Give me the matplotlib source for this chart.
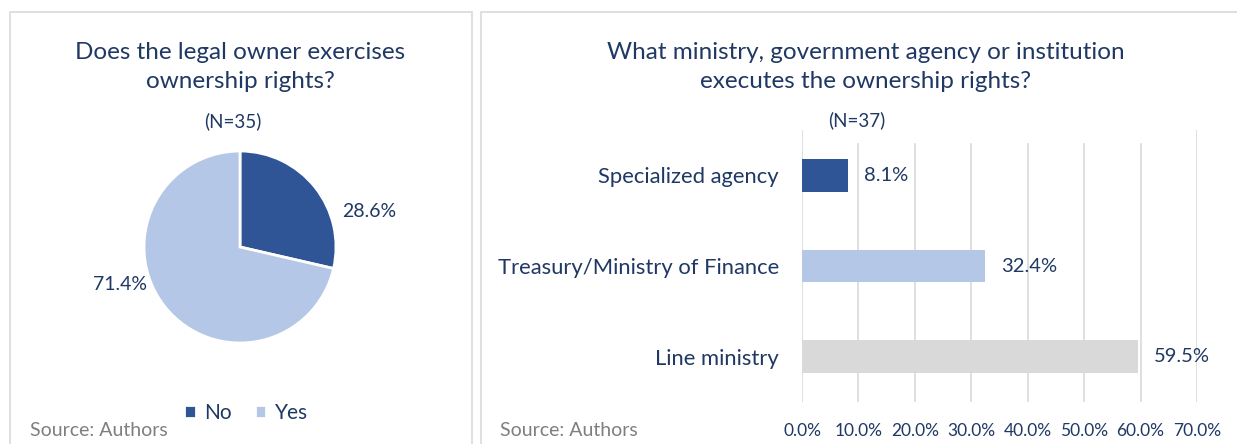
import matplotlib.pyplot as plt
from matplotlib.patches import Rectangle

# pie: does the legal owner exercise ownership rights
pie_labels = ['No', 'Yes']
pie_values = [28.6, 71.4]

# bars: who executes the ownership rights
categories = ['Line ministry', 'Treasury/Ministry of Finance', 'Specialized agency']
shares = [59.5, 32.4, 8.1]
xticks = [0, 10, 20, 30, 40, 50, 60, 70]

navy = '#1F3864'
dark_blue = '#2F5597'
light_blue = '#B4C7E7'
grey_bar = '#D9D9D9'
source_grey = '#7F7F7F'

plt.rcParams['font.family'] = ['Lato', 'DejaVu Sans']

W, H = 1237, 444
fig = plt.figure(figsize=(W / 100, H / 100), dpi=100)


def box(x0, y0, x1, y1):
    # pixel box (top-left origin) -> figure fraction rect
    return [x0 / W, 1 - y1 / H, (x1 - x0) / W, (y1 - y0) / H]


def fx(x):
    return x / W


def fy(y):
    return 1 - y / H


# panel frames
fig.patches.append(Rectangle((fx(10), fy(450)), fx(462), fy(12) - fy(450),
                             transform=fig.transFigure, fill=False,
                             edgecolor='#D9D9D9', lw=1.2))
fig.patches.append(Rectangle((fx(481), fy(450)), fx(800), fy(12) - fy(450),
                             transform=fig.transFigure, fill=False,
                             edgecolor='#D9D9D9', lw=1.2))

# ---- left: pie ----
fig.text(fx(240), fy(67), 'Does the legal owner exercises\nownership rights?',
         ha='center', va='center', fontsize=17.5, color=navy, linespacing=1.52)
fig.text(fx(233), fy(121), '(N=35)', ha='center', va='center', fontsize=13.5, color=navy)

ax1 = fig.add_axes(box(144, 151, 336, 343))
wedges, _ = ax1.pie(pie_values, colors=[dark_blue, light_blue], startangle=90,
                    counterclock=False, radius=1,
                    wedgeprops=dict(edgecolor='white', linewidth=2))
ax1.set_xlim(-1, 1)
ax1.set_ylim(-1, 1)
ax1.set_aspect('equal')
ax1.text(1.35, 0.37, f'{pie_values[0]}%', ha='center', va='center', fontsize=14, color=navy)
ax1.text(-1.25, -0.39, f'{pie_values[1]}%', ha='center', va='center', fontsize=14, color=navy)

fig.legend(wedges, pie_labels, loc='center', bbox_to_anchor=(fx(246), fy(413)),
           ncol=2, frameon=False, fontsize=15, labelcolor=navy,
           handlelength=0.55, handleheight=0.55, handletextpad=0.4, columnspacing=1.1)
fig.text(fx(30), fy(430), 'Source: Authors', ha='left', va='center', fontsize=14, color=source_grey)

# ---- right: bars ----
fig.text(fx(866), fy(67), 'What ministry, government agency or institution\nexecutes the ownership rights?',
         ha='center', va='center', fontsize=17.5, color=navy, linespacing=1.52)
fig.text(fx(857), fy(120), '(N=37)', ha='center', va='center', fontsize=13.5, color=navy)

ax2 = fig.add_axes(box(802, 130, 1197, 402))
ypos = range(len(categories))
ax2.barh(ypos, shares, height=0.36, color=[grey_bar, light_blue, dark_blue], zorder=3)
for y, v in zip(ypos, shares):
    ax2.annotate(f'{v}%', (v, y), xytext=(16, 0), textcoords='offset pixels',
                 ha='left', va='center', fontsize=14.5, color=navy)
ax2.set_xlim(0, 70)
ax2.set_ylim(-0.5, 2.5)
ax2.set_xticks(xticks)
ax2.set_xticklabels([f'{t:.1f}%' for t in xticks], fontsize=12.5, color=navy)
ax2.set_yticks(list(ypos))
ax2.set_yticklabels(categories, fontsize=15.8, color=navy)
ax2.tick_params(axis='both', length=0)
ax2.tick_params(axis='x', pad=15)
ax2.tick_params(axis='y', pad=16.5)
# outer gridlines run the full height, inner ones stop a little lower
for t in xticks:
    top = 1.0 if t in (xticks[0], xticks[-1]) else 0.949
    ax2.axvline(t, ymin=0, ymax=top, color='#D9D9D9', lw=1.2, zorder=0)
for s in ax2.spines.values():
    s.set_visible(False)
fig.text(fx(500), fy(430), 'Source: Authors', ha='left', va='center', fontsize=14,
         color=source_grey)

fig.savefig('out.png', dpi=100, facecolor='white')
